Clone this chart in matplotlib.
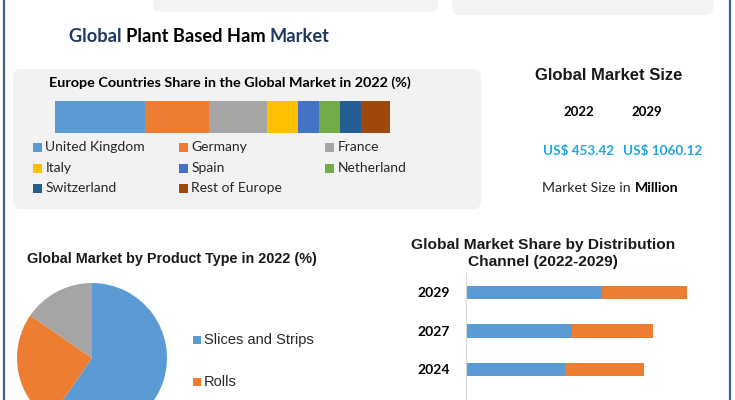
import matplotlib
matplotlib.use("Agg")
import matplotlib.pyplot as plt
from matplotlib.patches import FancyBboxPatch, Rectangle
from matplotlib import font_manager

# data
europe_countries = ["United Kingdom", "Germany", "France", "Italy", "Spain",
                    "Netherland", "Switzerland", "Rest of Europe"]
europe_share = [26.9, 19.1, 17.3, 9.3, 6.3, 6.3, 6.0, 8.8]
europe_colors = ["#5b9bd5", "#ed7d31", "#a5a5a5", "#ffc000", "#4472c4",
                 "#70ad47", "#255e91", "#9e480e"]

size_years = ["2022", "2029"]
size_values = ["US$ 453.42", "US$ 1060.12"]

product_types = ["Slices and Strips", "Rolls", "Others"]
product_share = [59.6, 25.0, 15.4]
product_colors = ["#5b9bd5", "#ed7d31", "#a5a5a5"]

channel_years = ["2029", "2027", "2024"]
channel_a = [136, 106, 99]
channel_b = [85, 81, 79]
channel_colors = ["#5b9bd5", "#ed7d31"]

W, H = 735, 400
names = {f.name for f in font_manager.fontManager.ttflist}
narrow = "Liberation Sans Narrow" if "Liberation Sans Narrow" in names else "Lato"
calibri = "Lato"
arial = "Liberation Sans"

fig = plt.figure(figsize=(W / 100, H / 100), dpi=100)
fig.patch.set_facecolor("white")
R = fig.canvas.get_renderer()

# background canvas in pixel coordinates
bg = fig.add_axes([0, 0, 1, 1], zorder=0)
bg.set_xlim(0, W)
bg.set_ylim(H, 0)
bg.axis("off")


def px_axes(x0, y0, x1, y1, z=1):
    return fig.add_axes([x0 / W, 1 - y1 / H, (x1 - x0) / W, (y1 - y0) / H], zorder=z)


def fit(t, width):
    w = t.get_window_extent(renderer=R).width
    t.set_fontsize(t.get_fontsize() * width / w)
    return t


def runs(x, y, parts, ha="left", width=None, **kw):
    # consecutive text pieces with different colour / weight
    texts, widths = [], []
    for s, c, wt in parts:
        t = bg.text(0, y, s, color=c, fontweight=wt, va="center", **kw)
        texts.append(t)
        widths.append(t.get_window_extent(renderer=R).width)
    total = sum(widths)
    if width:
        k = width / total
        for t in texts:
            t.set_fontsize(t.get_fontsize() * k)
        widths = [w * k for w in widths]
        total = width
    if ha == "center":
        x -= total / 2
    for t, w in zip(texts, widths):
        t.set_x(x)
        x += w


# page frame and cut-off cards at top
bg.plot([4, 4], [0, H], color="#41618a", lw=1.6)
bg.plot([730, 730], [0, H], color="#41618a", lw=1.6)
for x0, x1, yb in [(153, 438, 12), (452, 713, 15)]:
    bg.add_patch(FancyBboxPatch((x0, -20), x1 - x0, yb + 20,
                                boxstyle="round,pad=0,rounding_size=7",
                                fc="#f3f3f4", ec="none"))

# main title
runs(69, 37, [("Global ", "#1f3864", "bold"), ("Plant Based Ham ", "black", "bold"),
              ("Market", "#1f3864", "bold")], width=260, family=narrow, fontsize=13.5)

# Europe panel
bg.add_patch(FancyBboxPatch((13, 69), 468, 140, boxstyle="round,pad=0,rounding_size=8",
                            fc="#f2f2f2", ec="none"))
t = bg.text(230, 83, "Europe Countries Share in the Global Market in 2022 (%)",
            ha="center", va="center", fontweight="bold", family=calibri, fontsize=9.5)
fit(t, 365)

ax_eu = px_axes(55, 101, 390, 133)
left = 0
for share, col in zip(europe_share, europe_colors):
    ax_eu.barh(0, share, left=left, height=1, color=col)
    left += share
ax_eu.set_xlim(0, sum(europe_share))
ax_eu.set_ylim(-0.5, 0.5)
ax_eu.axis("off")

col_x = [33, 179, 325]
row_y = [147, 168, 188]
for i, (name, col) in enumerate(zip(europe_countries, europe_colors)):
    x, y = col_x[i % 3], row_y[i // 3]
    bg.add_patch(Rectangle((x, y - 4.5), 9, 9, fc=col, ec="none"))
    t = bg.text(x + 12.5, y, name, va="center", family=calibri, fontsize=10, color="#262626")
    if i == 0:
        fit(t, 100)
        leg_fs = t.get_fontsize()
    else:
        t.set_fontsize(leg_fs)

# Global market size
t = bg.text(609, 76, "Global Market Size", ha="center", va="center",
            fontweight="bold", family=arial, fontsize=11, color="#1a1a1a")
fit(t, 148)
for x, yr, val in zip([579, 647], size_years, size_values):
    bg.text(x, 112, yr, ha="center", va="center", fontweight="bold",
            family=calibri, fontsize=9.5, color="black")
    t = bg.text(x if yr == "2022" else 663, 151, val, ha="center", va="center",
                fontweight="bold", family=calibri, fontsize=9.5, color="#21a6e0")
    fit(t, 71 if yr == "2022" else 79)
runs(611, 188, [("Market Size in ", "#262626", "normal"), ("Million", "black", "bold")],
     ha="center", width=137, family=calibri, fontsize=9.5)

# product type pie
t = bg.text(27, 259, "Global Market by Product Type in 2022 (%)", va="center",
            fontweight="bold", family=arial, fontsize=10, color="#1a1a1a")
fit(t, 289)
ax_pie = px_axes(17, 283, 167, 433)
ax_pie.pie(product_share, colors=product_colors, startangle=90, counterclock=False,
           wedgeprops=dict(linewidth=0))
ax_pie.set_xlim(-1, 1)
ax_pie.set_ylim(-1, 1)
ax_pie.set_aspect("equal")
for y, name, col in zip([340, 382], product_types[:2], product_colors[:2]):
    bg.add_patch(Rectangle((193, y - 4), 8, 8, fc=col, ec="none"))
    t = bg.text(204, y, name, va="center", family=arial, fontsize=9.5, color="#262626")
    if y == 340:
        fit(t, 109)
        pie_fs = t.get_fontsize()
    else:
        t.set_fontsize(pie_fs)

# distribution channel bars
for y, s in [(245, "Global Market Share by Distribution"), (262, "Channel (2022-2029)")]:
    t = bg.text(543, y, s, ha="center", va="center", fontweight="bold",
                family=arial, fontsize=10, color="#1a1a1a")
    if y == 245:
        fit(t, 263)
        fs = t.get_fontsize()
    else:
        t.set_fontsize(fs)

ax_ch = px_axes(466, 273, 720, 400)
pos = list(range(len(channel_years)))
ax_ch.barh(pos, channel_a, height=0.35, color=channel_colors[0])
ax_ch.barh(pos, channel_b, left=channel_a, height=0.35, color=channel_colors[1])
ax_ch.set_xlim(0, 254)
ax_ch.set_ylim((400 - 292.5) / 38.5, -0.5)
ax_ch.set_yticks(pos)
ax_ch.set_yticklabels(channel_years, fontweight="bold", family=calibri, fontsize=10)
ax_ch.tick_params(axis="y", length=0, pad=11.5)
ax_ch.set_xticks([])
for s in ["top", "right", "bottom"]:
    ax_ch.spines[s].set_visible(False)
ax_ch.spines["left"].set_color("#d9d9d9")
ax_ch.patch.set_alpha(0)

fig.savefig("out.png", dpi=100)
